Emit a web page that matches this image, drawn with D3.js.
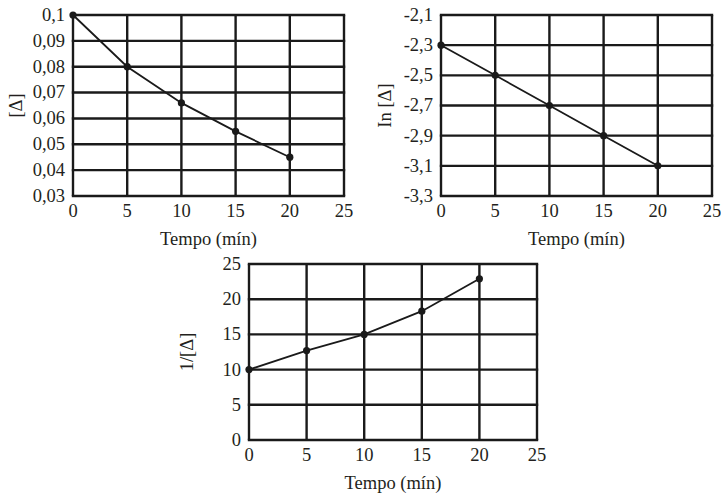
<!DOCTYPE html>
<html>
<head>
<meta charset="utf-8">
<script src="https://cdn.jsdelivr.net/npm/d3@7"></script>
<style>
  body { margin: 0; background: #fff; }
  text { font-family: "Liberation Serif", "Times New Roman", serif; fill: #231f20; }
</style>
</head>
<body>
<div id="dis"></div>
<script>
var tempo = [0, 5, 10, 15, 20];
var conc = [0.1, 0.08, 0.066, 0.055, 0.045];
var lnConc = [-2.3, -2.5, -2.7, -2.9, -3.1];
var invConc = [10, 12.7, 15, 18.3, 22.9];

var xTicks = [0, 5, 10, 15, 20, 25];
var xLabels = ["0", "5", "10", "15", "20", "25"];
var y1Ticks = [0.03, 0.04, 0.05, 0.06, 0.07, 0.08, 0.09, 0.1];
var y1Labels = ["0,03", "0,04", "0,05", "0,06", "0,07", "0,08", "0,09", "0,1"];
var y2Ticks = [-3.3, -3.1, -2.9, -2.7, -2.5, -2.3, -2.1];
var y2Labels = ["-3,3", "-3,1", "-2,9", "-2,7", "-2,5", "-2,3", "-2,1"];
var y3Ticks = [0, 5, 10, 15, 20, 25];
var y3Labels = ["0", "5", "10", "15", "20", "25"];

var charts = [
    { box: [73, 15, 344, 196], ys: conc, yt: y1Ticks, yl: y1Labels, title: "[\u0394]", tx: 16 },
    { box: [441, 15, 712, 196], ys: lnConc, yt: y2Ticks, yl: y2Labels, title: "In [\u0394]", tx: 385 },
    { box: [249, 264, 537, 440], ys: invConc, yt: y3Ticks, yl: y3Labels, title: "1/[\u0394]", tx: 187 }
];

var svg = d3.select("#dis").append("svg")
    .attr("width", 721)
    .attr("height", 493);

var fs = 18.5;

charts.forEach(function(c) {
    var x = d3.scaleLinear().domain([0, 25]).range([c.box[0], c.box[2]]);
    var y = d3.scaleLinear()
        .domain([c.yt[0], c.yt[c.yt.length - 1]])
        .range([c.box[3], c.box[1]]);

    var g = svg.append("g");

    // grid
    g.append("g")
        .attr("stroke", "#1a1a1a")
        .attr("stroke-width", 2.4)
        .selectAll("line.v")
        .data(xTicks)
        .join("line")
            .attr("x1", d => x(d)).attr("x2", d => x(d))
            .attr("y1", c.box[1]).attr("y2", c.box[3]);
    g.append("g")
        .attr("stroke", "#1a1a1a")
        .attr("stroke-width", 2.4)
        .selectAll("line.h")
        .data(c.yt)
        .join("line")
            .attr("x1", c.box[0] - 1.2).attr("x2", c.box[2] + 1.2)
            .attr("y1", d => y(d)).attr("y2", d => y(d));

    // tick labels
    g.append("g")
        .attr("font-size", fs)
        .attr("text-anchor", "end")
        .selectAll("text")
        .data(c.yt)
        .join("text")
            .attr("x", c.box[0] - 8)
            .attr("y", d => y(d))
            .attr("dy", "0.32em")
            .text((d, i) => c.yl[i]);
    g.append("g")
        .attr("font-size", fs)
        .attr("text-anchor", "middle")
        .selectAll("text")
        .data(xTicks)
        .join("text")
            .attr("x", d => x(d))
            .attr("y", c.box[3] + 21)
            .text((d, i) => xLabels[i]);

    // titles
    g.append("text")
        .attr("font-size", fs)
        .attr("text-anchor", "middle")
        .attr("x", (c.box[0] + c.box[2]) / 2)
        .attr("y", c.box[3] + 49)
        .text("Tempo (m\u00edn)");
    g.append("text")
        .attr("font-size", fs)
        .attr("text-anchor", "middle")
        .attr("transform", "translate(" + c.tx + "," + (c.box[1] + c.box[3]) / 2 + ") rotate(-90)")
        .attr("dy", "0.35em")
        .text(c.title);

    // series
    var pts = tempo.map((t, i) => [t, c.ys[i]]);
    g.append("path")
        .datum(pts)
        .attr("fill", "none")
        .attr("stroke", "#1a1a1a")
        .attr("stroke-width", 1.8)
        .attr("d", d3.line().x(d => x(d[0])).y(d => y(d[1])));
    g.append("g")
        .selectAll("circle")
        .data(pts)
        .join("circle")
            .attr("cx", d => x(d[0]))
            .attr("cy", d => y(d[1]))
            .attr("r", 3.6)
            .attr("fill", "#1a1a1a");
});
</script>
</body>
</html>
